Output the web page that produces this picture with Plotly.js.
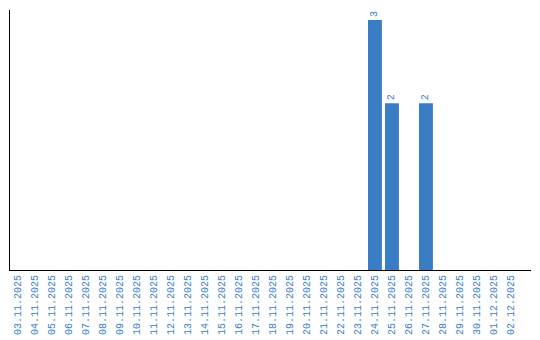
<!DOCTYPE html>
<html>
<head>
<meta charset="utf-8">
<script src="https://cdn.plot.ly/plotly-3.0.1.min.js"></script>
<style>html,body{margin:0;padding:0;background:#fff;}#chart{width:540px;height:340px;}</style>
</head>
<body>
<div id="chart"></div>
<script>
const dates = ["03.11.2025","04.11.2025","05.11.2025","06.11.2025","07.11.2025","08.11.2025","09.11.2025","10.11.2025","11.11.2025","12.11.2025","13.11.2025","14.11.2025","15.11.2025","16.11.2025","17.11.2025","18.11.2025","19.11.2025","20.11.2025","21.11.2025","22.11.2025","23.11.2025","24.11.2025","25.11.2025","26.11.2025","27.11.2025","28.11.2025","29.11.2025","30.11.2025","01.12.2025","02.12.2025"];
const counts = [0,0,0,0,0,0,0,0,0,0,0,0,0,0,0,0,0,0,0,0,0,3,2,0,2,0,0,0,0,0];

const blue = '#3b7dc4';
const labels = counts.map(v => v > 0 ? String(v) : '');

Plotly.newPlot('chart', [{
  type: 'bar',
  x: dates,
  y: counts,
  text: labels,
  textposition: 'outside',
  textangle: -90,
  cliponaxis: false,
  textfont: {family: 'Liberation Mono', size: 10, color: blue},
  marker: {color: blue},
  width: 0.82,
  hoverinfo: 'none'
}], {
  width: 540, height: 340,
  margin: {l: 10, r: 9, t: 10, b: 70, pad: 0},
  paper_bgcolor: '#fff', plot_bgcolor: '#fff',
  showlegend: false,
  xaxis: {
    type: 'category',
    range: [-0.47, 30.18],
    tickangle: -90,
    tickfont: {family: 'Liberation Mono', size: 10, color: blue},
    showgrid: false, zeroline: false,
    showline: true, linecolor: '#000', linewidth: 1,
    ticks: '', ticklen: 0
  },
  yaxis: {
    range: [0, 3.12],
    showticklabels: false,
    showgrid: false, zeroline: false,
    showline: true, linecolor: '#000', linewidth: 1,
    ticks: ''
  }
}, {staticPlot: true, displayModeBar: false});
</script>
</body>
</html>
